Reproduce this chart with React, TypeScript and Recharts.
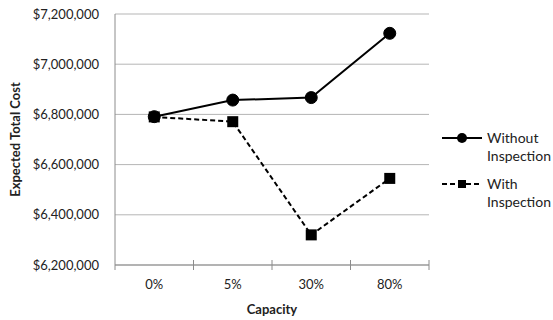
import { LineChart, Line, XAxis, YAxis, CartesianGrid } from 'recharts'

const capacities = ['0%', '5%', '30%', '80%']
const withoutInspection = [6791000, 6857000, 6867000, 7123000]
const withInspection = [6790000, 6771000, 6320000, 6545000]
const costTicks = [6200000, 6400000, 6600000, 6800000, 7000000, 7200000]

const data = capacities.map((capacity, i) => ({
  capacity,
  without: withoutInspection[i],
  with: withInspection[i],
}))

const series = [
  { key: 'without', name: 'Without Inspection', dash: undefined, marker: 'circle' },
  { key: 'with', name: 'With Inspection', dash: '5 3', marker: 'square' },
]

const FONT = 'Lato, "Open Sans", sans-serif'
const AXIS = '#8c8c8c'
const GRID = '#b5b5b5'
const W = 553
const H = 320
const MARGIN = { top: 14, right: 124, bottom: 0, left: 0 }
const Y_AXIS_W = 115
const X_AXIS_H = 55
const BAND = (W - MARGIN.right - Y_AXIS_W) / capacities.length

const money = (v: number) => '$' + v.toLocaleString('en-US')

function CapacityTick(props: any) {
  const { x, y, payload, index } = props
  return (
    <g>
      {index === 0 && <line x1={x - BAND / 2} x2={x - BAND / 2} y1={y} y2={y + 5} stroke={AXIS} />}
      <line x1={x + BAND / 2} x2={x + BAND / 2} y1={y - 5} y2={y + 5} stroke={AXIS} />
      <text x={x} y={y + 24} textAnchor="middle" fill="#222" fontSize={13} fontFamily={FONT}>
        {payload.value}
      </text>
    </g>
  )
}

function SquareDot(props: any) {
  const { cx, cy } = props
  if (cx == null || cy == null) return null
  return <rect x={cx - 5.5} y={cy - 5.5} width={11} height={11} fill="#000" />
}

function LegendMarker({ marker, cx, cy }: { marker: string; cx: number; cy: number }) {
  if (marker === 'circle') return <circle cx={cx} cy={cy} r={5} fill="#000" />
  return <rect x={cx - 4} y={cy - 4} width={8} height={8} fill="#000" />
}

function SeriesLegend() {
  return (
    <svg width={W} height={H} style={{ position: 'absolute', left: 0, top: 0, pointerEvents: 'none' }}>
      {series.map((s, i) => {
        const cy = 138 + i * 46
        const [first, ...rest] = s.name.split(' ')
        return (
          <g key={s.key}>
            <line x1={442} x2={482} y1={cy} y2={cy} stroke="#000" strokeWidth={2} strokeDasharray={s.dash} />
            <LegendMarker marker={s.marker} cx={462} cy={cy} />
            <text x={487} y={cy + 5} fontSize={14} fontFamily={FONT} fill="#222">
              <tspan x={487}>{first}</tspan>
              <tspan x={487} dy={18}>{rest.join(' ')}</tspan>
            </text>
          </g>
        )
      })}
    </svg>
  )
}

export default function App() {
  return (
    <div style={{ position: 'fixed', left: 0, top: 0, width: W, height: H, background: '#fff' }}>
      <LineChart width={W} height={H} data={data} margin={MARGIN}>
        <CartesianGrid vertical={false} stroke={GRID} />
        <XAxis
          dataKey="capacity"
          height={X_AXIS_H}
          padding={{ left: BAND / 2, right: BAND / 2 }}
          axisLine={{ stroke: AXIS }}
          tickLine={false}
          tickSize={0}
          tickMargin={0}
          tick={<CapacityTick />}
          interval={0}
          label={{
            value: 'Capacity',
            position: 'insideBottom',
            offset: 6,
            style: { fontFamily: FONT, fontSize: 13, fontWeight: 700, fill: '#222' },
          }}
        />
        <YAxis
          width={Y_AXIS_W}
          domain={[6200000, 7200000]}
          ticks={costTicks}
          tickFormatter={money}
          axisLine={{ stroke: AXIS }}
          tickLine={false}
          tickSize={0}
          tickMargin={16}
          tick={{ fontFamily: FONT, fontSize: 13, fill: '#222' }}
          label={{
            value: 'Expected Total Cost',
            angle: -90,
            position: 'insideLeft',
            offset: 15,
            style: { textAnchor: 'middle', fontFamily: FONT, fontSize: 13, fontWeight: 700, fill: '#222' },
          }}
        />
        <YAxis yAxisId="frame" orientation="right" width={0} tick={false} tickLine={false} axisLine={{ stroke: AXIS }} />
        <Line
          dataKey="without"
          name="Without Inspection"
          stroke="#000"
          strokeWidth={2}
          dot={{ r: 6, fill: '#000', stroke: '#000', strokeWidth: 1 }}
          activeDot={false}
          isAnimationActive={false}
        />
        <Line
          dataKey="with"
          name="With Inspection"
          stroke="#000"
          strokeWidth={2}
          strokeDasharray="5 3"
          dot={<SquareDot />}
          activeDot={false}
          isAnimationActive={false}
        />
      </LineChart>
      <SeriesLegend />
    </div>
  )
}
